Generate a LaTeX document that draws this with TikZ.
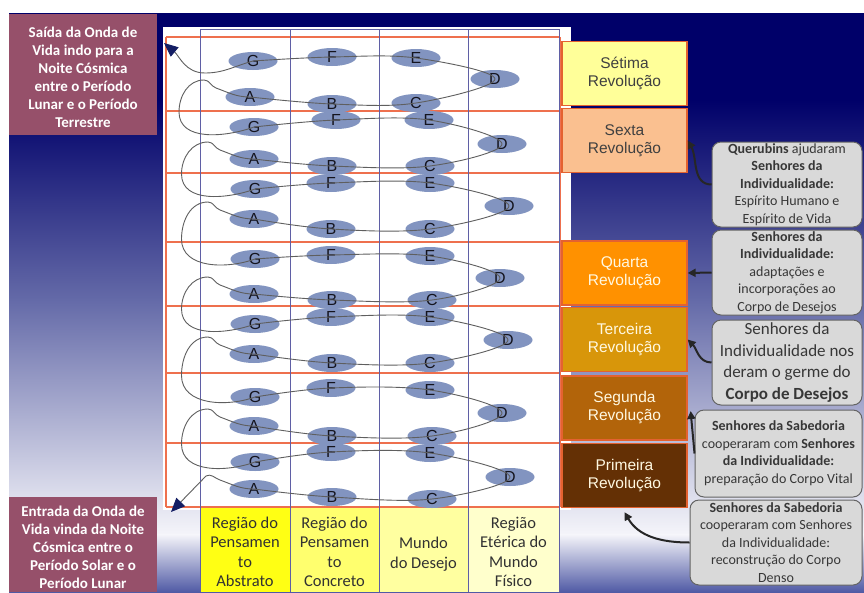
\documentclass[tikz,border=0pt]{standalone}
\usepackage{fontspec}
\setmainfont{Carlito}
\newfontfamily\arialf{Liberation Sans}
\usetikzlibrary{shapes.geometric,arrows.meta,calc}
\definecolor{navybg}{RGB}{0,0,105}
\definecolor{bgmid}{RGB}{100,106,168}
\definecolor{bglight}{RGB}{245,245,250}
\definecolor{bgbot}{RGB}{80,90,165}
\definecolor{ellblue}{RGB}{130,148,192}
\definecolor{waveg}{RGB}{95,95,95}
\definecolor{orangeln}{RGB}{238,112,78}
\definecolor{colline}{RGB}{95,95,165}
\definecolor{yA}{RGB}{255,255,20}
\definecolor{yB}{RGB}{255,255,110}
\definecolor{yC}{RGB}{255,255,160}
\definecolor{yD}{RGB}{255,255,204}
\definecolor{labt}{RGB}{50,50,50}
\definecolor{revS}{RGB}{255,255,153}
\definecolor{revSx}{RGB}{250,192,144}
\definecolor{revQ}{RGB}{255,145,0}
\definecolor{revT}{RGB}{216,150,10}
\definecolor{revSg}{RGB}{178,100,10}
\definecolor{revP}{RGB}{100,48,5}
\definecolor{revborder}{RGB}{228,98,48}
\definecolor{revdark}{RGB}{64,64,64}
\definecolor{revlight}{RGB}{255,248,225}
\definecolor{calf}{RGB}{217,217,217}
\definecolor{calb}{RGB}{100,100,100}
\definecolor{calt}{RGB}{55,55,55}
\definecolor{arrd}{RGB}{38,38,38}
\definecolor{mauve}{RGB}{150,80,106}
\definecolor{arrnavy}{RGB}{20,30,100}
\definecolor{lettc}{RGB}{20,20,30}
\newcommand\rowlink[2]{\draw[wave] (#1.center) to[out=180,in=-20] ++(-34,-9) to[out=160,in=0] ++(-12,-8) to[out=180,in=90] ($(#1)!0.5!(#2)+(-73,0)$) to[out=-90,in=200] (#2.center);}
\begin{document}
\begin{tikzpicture}[x=1pt,y=-1pt,
  wave/.style={draw=waveg, line width=0.9pt},
  ell/.style={ellipse, fill=ellblue, minimum width=49pt, minimum height=18pt, inner sep=0pt, font=\arialf\fontsize{16}{16}\selectfont, text=lettc},
  rev/.style={rectangle, draw=revborder, line width=1.3pt, minimum width=125pt, minimum height=64pt, inner sep=0pt, align=center, font=\arialf\fontsize{15.5}{18}\selectfont},
  callout/.style={rectangle, rounded corners=9pt, draw=calb, line width=1pt, fill=calf, align=center, inner sep=0pt, text=calt, font=\fontsize{14}{17.5}\selectfont},
  carr/.style={draw=arrd, line width=2pt, -{Triangle[length=8pt,width=8pt]}},
  sidetext/.style={text=white, align=center, font=\bfseries\fontsize{15}{18}\selectfont, inner sep=0pt},
  collab/.style={align=center, text=labt, inner sep=0pt, font=\fontsize{16.5}{19.5}\selectfont},
  orline/.style={draw=orangeln, line width=1.2pt},
  blline/.style={draw=colline, line width=0.9pt},
  navyarr/.style={-{Triangle[length=14pt,width=12pt,color=arrnavy,fill=arrnavy]}}
]
\useasboundingbox (0,0) rectangle (864,592);
% background
\fill[white] (0,0) rectangle (864,592);
\fill[navybg] (9,13) rectangle (864,100);
\shade[top color=navybg, bottom color=bgmid] (9,99.5) rectangle (864,300);
\shade[top color=bgmid, bottom color=bglight] (9,299.5) rectangle (864,535);
\shade[top color=bglight, bottom color=bgbot] (9,534.5) rectangle (864,592);
% white panel
\fill[white] (163,27) rectangle (571,510);
% column label fills
\fill[yA] (200,507) rectangle (290,592);
\fill[yB] (290,507) rectangle (379,592);
\fill[yC] (379,507) rectangle (468,592);
\fill[yD] (468,507) rectangle (559,592);
\node[collab] (lab1) at (245,552) {Região do\\Pensamen\\to\\Abstrato};
\node[collab] (lab2) at (334.5,552) {Região do\\Pensamen\\to\\Concreto};
\node[collab] (lab3) at (423.5,554) {Mundo\\do Desejo};
\node[collab] (lab4) at (513.5,552) {Região\\Etérica do\\Mundo\\Físico};
% grid
\foreach \y in {37,111,173,242,306,373,443,507} \draw[orline] (166,\y) -- (560,\y);
\draw[orline] (166,37) -- (166,507);
\draw[orline] (560,37) -- (560,507);
\foreach \x in {200,290,379,468,559} \draw[blline] (\x,29) -- (\x,592);
\draw[blline] (200,29) -- (559,29);
% ellipses and loops
\foreach \r/\gx/\gy/\fx/\fy/\ex/\ey/\dx/\dy/\ax/\ay/\bx/\by/\cx/\cy in {
 1/253/61/332/57/416/58/495/79/250/97/332/104/416/103,
 2/254/127/336/120/429/120/502/144/254/159/332/166/430/166,
 3/255/189/331/183/430/183/509/206/254/219/331/229/430/229,
 4/255/259/331/255/430/256/500/278/254/294/332/300/432/300,
 5/255/324/331/317/430/317/508/340/254/354/332/363/430/363,
 6/255/397/331/388/430/390/502/413/254/426/332/436/432/436,
 7/255/462/331/452/430/453/510/477/254/489/332/497/432/499}{
 \node[ell] (r\r-G) at (\gx,\gy) {G};
 \node[ell] (r\r-F) at (\fx,\fy) {F};
 \node[ell] (r\r-E) at (\ex,\ey) {E};
 \node[ell] (r\r-D) at (\dx,\dy) {D};
 \node[ell] (r\r-A) at (\ax,\ay) {A};
 \node[ell] (r\r-B) at (\bx,\by) {B};
 \node[ell] (r\r-C) at (\cx,\cy) {C};
 \draw[wave] plot[smooth,tension=0.6] coordinates {(r\r-G.center) (r\r-F.center) (r\r-E.center) (r\r-D.center) (r\r-C.center) (r\r-B.center) (r\r-A.center)};
}
\foreach \a/\b in {1/2,2/3,3/4,4/5,5/6,6/7} {\rowlink{r\a-A}{r\b-G}}
\coordinate (exitTip) at (164,43);
\coordinate (entryTip) at (171,512);
\draw[wave,navyarr] (r1-G.center) to[out=195,in=0] ++(-48,12) to[out=180,in=-40] (exitTip);
\draw[wave,navyarr] (r7-A.center) to[out=180,in=-20] ++(-34,-9) to[out=160,in=30] ++(-14,-4) -- (entryTip);
% revolution boxes
\node[rev, fill=revS, text=revdark] (rev7) at (624.5,73.5) {Sétima\\Revolução};
\node[rev, fill=revSx, text=revdark] (rev6) at (624.5,140.5) {Sexta\\Revolução};
\node[rev, fill=revQ, text=revlight] (rev4) at (624.5,273) {Quarta\\Revolução};
\node[rev, fill=revT, text=revlight] (rev3) at (624.5,339.5) {Terceira\\Revolução};
\node[rev, fill=revSg, text=revlight] (rev2) at (624.5,408) {Segunda\\Revolução};
\node[rev, fill=revP, text=revlight] (rev1) at (624.5,475.5) {Primeira\\Revolução};
% callouts
\node[callout, minimum width=150pt, minimum height=85pt] (c1) at (787,184.5) {\textbf{Querubins} ajudaram\\\textbf{Senhores da}\\\textbf{Individualidade:}\\Espírito Humano e\\Espírito de Vida};
\node[callout, minimum width=150pt, minimum height=85pt] (c2) at (787,272.5) {\textbf{Senhores da}\\\textbf{Individualidade:}\\adaptações e\\incorporações ao\\Corpo de Desejos};
\node[callout, minimum width=150pt, minimum height=85pt, font=\fontsize{17}{21.5}\selectfont] (c3) at (787,362.5) {Senhores da\\Individualidade nos\\deram o germe do\\\textbf{Corpo de Desejos}};
\node[callout, minimum width=167pt, minimum height=87pt] (c4) at (778.5,453.5) {\textbf{Senhores da Sabedoria}\\cooperaram com \textbf{Senhores}\\\textbf{da Individualidade:}\\preparação do Corpo Vital};
\node[callout, minimum width=172pt, minimum height=85pt] (c5) at (776,542.5) {\textbf{Senhores da Sabedoria}\\cooperaram com Senhores\\da Individualidade:\\reconstrução do Corpo\\Denso};
\draw[carr] (c1.west) to[out=180,in=-60] (rev6.east);
\draw[carr] (c2.west) -- (rev4.east);
\draw[carr] (c3.west) to[out=180,in=-45] (rev3.east);
\draw[carr] (c4.west) to[out=95,in=-85] ($(rev2.east)+(3,3)$);
\draw[carr] (c5.west) to[out=180,in=-60] ($(rev1.south)+(0,4)$);
% side boxes
\fill[mauve] (9,14) rectangle (157,135);
\node[sidetext] (exitbox) at (83,77) {Saída da Onda de\\Vida indo para a\\Noite Cósmica\\entre o Período\\Lunar e o Período\\Terrestre};
\fill[mauve] (9,497) rectangle (157,592);
\node[sidetext] (entrybox) at (83,547) {Entrada da Onda de\\Vida vinda da Noite\\Cósmica entre o\\Período Solar e o\\Período Lunar};
\end{tikzpicture}
\end{document}
